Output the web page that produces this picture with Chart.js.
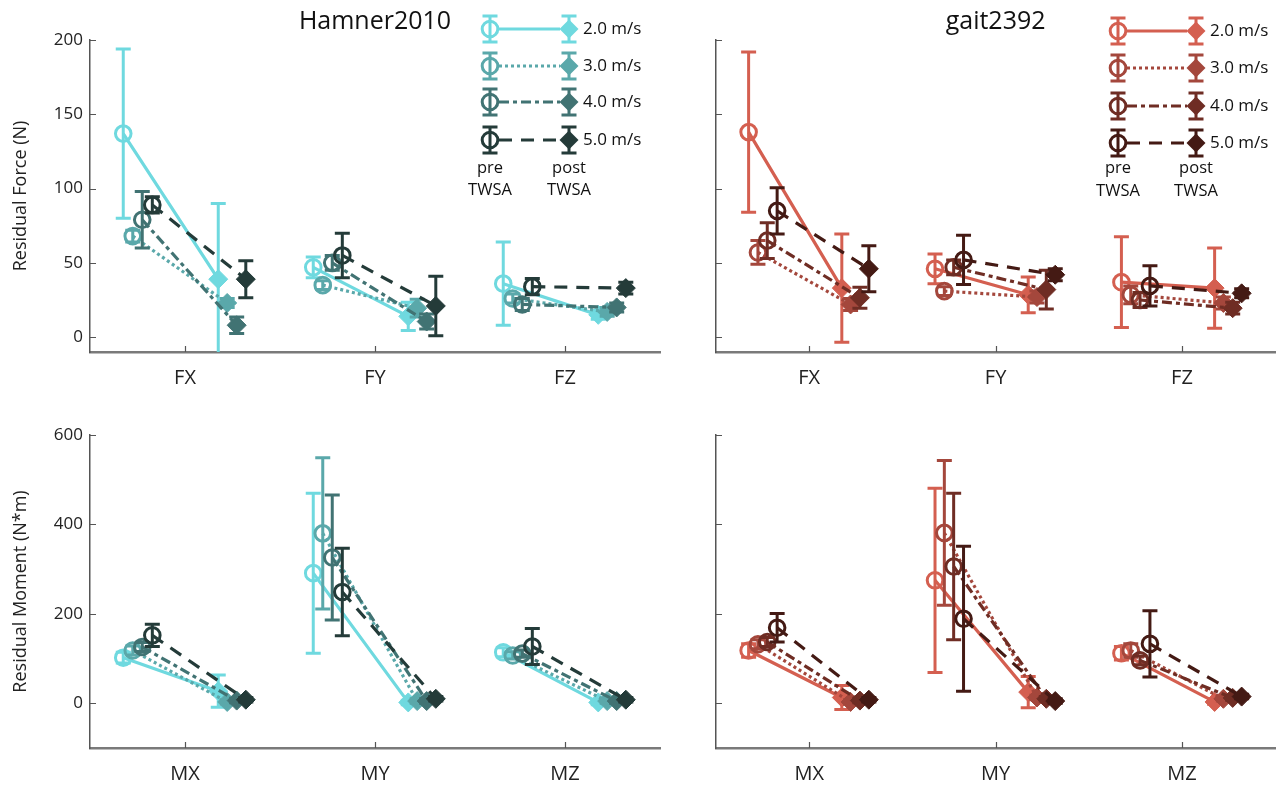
<!DOCTYPE html>
<html>
<head>
<meta charset="utf-8">
<script src="https://cdn.jsdelivr.net/npm/chart.js@4.4.1/dist/chart.umd.min.js"></script>
<style>
  body { margin: 0; background: #fff; width: 1286px; height: 787px; position: relative; overflow: hidden; }
  canvas { position: absolute; }
</style>
</head>
<body>
<canvas id="hamnerForce" width="680" height="400" style="left:0;top:0"></canvas>
<canvas id="gaitForce" width="660" height="400" style="left:626px;top:0"></canvas>
<canvas id="hamnerMoment" width="680" height="387" style="left:0;top:400px"></canvas>
<canvas id="gaitMoment" width="660" height="387" style="left:626px;top:400px"></canvas>
<script>
const forceCategories = ['FX', 'FY', 'FZ'];
const momentCategories = ['MX', 'MY', 'MZ'];
const speeds = ['2.0 m/s', '3.0 m/s', '4.0 m/s', '5.0 m/s'];
const forceTicks = [0, 50, 100, 150, 200];
const momentTicks = [0, 200, 400, 600];

// rows = speeds, columns = categories
const hamnerForcePre = [[137, 47, 36], [68, 35, 26], [79, 50, 22], [89, 55, 34]];
const hamnerForcePreSd = [[57, 7, 28], [4, 3, 3], [19, 5, 4], [5.5, 15, 5.5]];
const hamnerForcePost = [[39, 14, 15], [23, 19.5, 17], [8, 10.5, 20], [39, 21, 33]];
const hamnerForcePostSd = [[51, 9.5, 3], [3, 6, 3], [5.6, 5, 3], [12.5, 20, 4]];

const gaitForcePre = [[138, 46, 37], [57, 31, 28.5], [65, 47, 25], [85, 52, 34.5]];
const gaitForcePreSd = [[54, 10, 30.5], [8, 3, 6], [12, 5, 5], [15.5, 16.5, 13.5]];
const gaitForcePost = [[33, 28.5, 33], [22, 27, 23], [26.5, 32, 19.5], [46, 42, 29.5]];
const gaitForcePostSd = [[36.5, 12, 27], [4, 4, 4], [7, 13, 4], [15.5, 4, 3]];

const hamnerMomentPre = [[102, 291, 114], [118, 380, 107], [126, 326, 111], [152, 249, 127]];
const hamnerMomentPreSd = [[12, 179, 10], [10, 169, 8], [10, 140, 8], [25, 98, 40]];
const hamnerMomentPost = [[27, 2, 2], [3, 5, 5], [6, 5, 5], [8, 10, 8]];
const hamnerMomentPostSd = [[36, 5, 5], [5, 5, 5], [5, 5, 5], [5, 5, 5]];

const gaitMomentPre = [[118, 275, 112], [132, 381, 118], [137, 306, 96], [169, 189, 133]];
const gaitMomentPreSd = [[15, 206, 15], [10, 162, 15], [10, 164, 10], [32, 162, 74]];
const gaitMomentPost = [[13, 25, 3], [3, 13, 10], [6, 10, 12], [8, 5, 15]];
const gaitMomentPostSd = [[27, 35, 5], [5, 5, 5], [5, 5, 5], [5, 5, 5]];

const hamnerColors = ['#6fd9df', '#5aa8aa', '#417373', '#243b39'];
const gaitColors = ['#d45f50', '#a4473c', '#6f2d24', '#441a14'];
const dashes = [[], [3, 3], [10, 4, 4, 4], [13, 9]];
const preOffset = [-0.325, -0.275, -0.225, -0.172];
const postOffset = [0.175, 0.222, 0.272, 0.32];
const FONT = '"Open Sans", "Noto Sans", sans-serif';

function buildDatasets(pre, preSd, post, postSd, colors) {
  return speeds.map((label, s) => {
    const data = [], errors = [];
    for (let c = 0; c < 3; c++) {
      data.push({x: c + 0.5 + preOffset[s], y: pre[s][c]},
                {x: c + 0.5 + postOffset[s], y: post[s][c]},
                {x: c + 1, y: null});
      errors.push(preSd[s][c], postSd[s][c], 0);
    }
    return {
      label, data, errors,
      borderColor: colors[s],
      backgroundColor: colors[s],
      borderWidth: 3.2,
      borderDash: dashes[s],
      order: 4 - s,
      spanGaps: false,
      pointStyle: ctx => ctx.dataIndex % 3 === 0 ? 'circle' : 'rectRot',
      pointRadius: ctx => ctx.dataIndex % 3 === 0 ? 7.8 : 9.5,
      pointBorderWidth: ctx => ctx.dataIndex % 3 === 0 ? 3 : 1,
      pointBackgroundColor: ctx => ctx.dataIndex % 3 === 0 ? 'rgba(0,0,0,0)' : colors[s],
      pointBorderColor: colors[s]
    };
  });
}

// vertical error bars with caps, drawn under each series' markers
const errorBars = {
  id: 'errorBars',
  beforeDatasetDraw(chart, args) {
    const ds = chart.data.datasets[args.index];
    const y = chart.scales.y, a = chart.chartArea, ctx = chart.ctx;
    ctx.save();
    ctx.beginPath();
    ctx.rect(a.left, a.top, a.right - a.left, a.bottom - a.top);
    ctx.clip();
    ctx.setLineDash([]);
    ctx.strokeStyle = ds.borderColor;
    ctx.lineWidth = 3;
    args.meta.data.forEach((pt, i) => {
      const v = ds.data[i].y, e = ds.errors[i];
      if (v == null || !e) return;
      const top = y.getPixelForValue(v + e), bot = y.getPixelForValue(v - e);
      ctx.beginPath();
      ctx.moveTo(pt.x, top); ctx.lineTo(pt.x, bot);
      ctx.moveTo(pt.x - 7.5, top); ctx.lineTo(pt.x + 7.5, top);
      ctx.moveTo(pt.x - 7.5, bot); ctx.lineTo(pt.x + 7.5, bot);
      ctx.stroke();
    });
    ctx.restore();
  }
};

// matlab style ticks pointing into the plot
const innerTicks = {
  id: 'innerTicks',
  afterDraw(chart) {
    const {ctx, chartArea: a, scales: {x, y}} = chart;
    ctx.save();
    ctx.strokeStyle = '#555';
    ctx.lineWidth = 1.2;
    ctx.beginPath();
    x.ticks.forEach(t => {
      const px = Math.round(x.getPixelForValue(t.value)) + 0.5;
      ctx.moveTo(px, a.bottom); ctx.lineTo(px, a.bottom - 6);
    });
    y.ticks.forEach(t => {
      const py = Math.round(y.getPixelForValue(t.value)) + 0.5;
      ctx.moveTo(a.left, py); ctx.lineTo(a.left + 6, py);
    });
    ctx.stroke();
    ctx.restore();
  }
};

const panelTitle = {
  id: 'panelTitle',
  afterDraw(chart, args, opts) {
    if (!opts.text) return;
    const ctx = chart.ctx, a = chart.chartArea;
    ctx.save();
    ctx.fillStyle = '#111';
    ctx.font = '25px ' + FONT;
    ctx.textAlign = 'center';
    ctx.textBaseline = 'middle';
    ctx.fillText(opts.text, (a.left + a.right) / 2, 22);
    ctx.restore();
  }
};

const twsaLegend = {
  id: 'twsaLegend',
  afterDraw(chart, args, o) {
    if (!o.rows) return;
    const ctx = chart.ctx;
    ctx.save();
    o.rows.forEach((ry, s) => {
      const col = o.colors[s];
      ctx.strokeStyle = col;
      ctx.fillStyle = col;
      ctx.lineWidth = 3.2;
      ctx.setLineDash(dashes[s]);
      ctx.beginPath();
      ctx.moveTo(o.preX + 9, ry); ctx.lineTo(o.postX - 9, ry);
      ctx.stroke();
      ctx.setLineDash([]);
      ctx.lineWidth = 3;
      [o.preX, o.postX].forEach(px => {
        ctx.beginPath();
        ctx.moveTo(px, ry - 13); ctx.lineTo(px, ry + 13);
        ctx.moveTo(px - 7.5, ry - 13); ctx.lineTo(px + 7.5, ry - 13);
        ctx.moveTo(px - 7.5, ry + 13); ctx.lineTo(px + 7.5, ry + 13);
        ctx.stroke();
      });
      ctx.lineWidth = 3;
      ctx.beginPath();
      ctx.arc(o.preX, ry, 7.8, 0, Math.PI * 2);
      ctx.stroke();
      ctx.beginPath();
      ctx.moveTo(o.postX - 9.5, ry); ctx.lineTo(o.postX, ry - 9.5);
      ctx.lineTo(o.postX + 9.5, ry); ctx.lineTo(o.postX, ry + 9.5);
      ctx.closePath();
      ctx.fill();
      ctx.fillStyle = '#111';
      ctx.font = '17px ' + FONT;
      ctx.textAlign = 'left';
      ctx.textBaseline = 'middle';
      ctx.fillText(speeds[s], o.textX, ry);
    });
    ctx.fillStyle = '#111';
    ctx.font = '16.5px ' + FONT;
    ctx.textAlign = 'center';
    ctx.textBaseline = 'middle';
    ctx.fillText('pre', o.preX, o.labelY[0]);
    ctx.fillText('TWSA', o.preX, o.labelY[1]);
    ctx.fillText('post', o.postX, o.labelY[0]);
    ctx.fillText('TWSA', o.postX, o.labelY[1]);
    ctx.restore();
  }
};

function makeChart(id, p) {
  return new Chart(document.getElementById(id), {
    type: 'line',
    data: {datasets: buildDatasets(p.pre, p.preSd, p.post, p.postSd, p.colors)},
    options: {
      responsive: false,
      animation: false,
      layout: {padding: {top: p.padTop, right: p.padRight, left: 0, bottom: 0}},
      scales: {
        x: {
          type: 'linear', min: 0, max: 3,
          afterBuildTicks: s => { s.ticks = [0.5, 1.5, 2.5].map(v => ({value: v})); },
          afterFit: s => { s.height = p.xHeight; },
          ticks: {
            callback: (v, i) => p.categories[i],
            font: {family: FONT, size: 20}, color: '#222', padding: 14, maxRotation: 0
          },
          grid: {display: false, drawTicks: false},
          border: {color: '#7a7a7a', width: 2.5}
        },
        y: {
          min: p.yMin, max: p.yMax,
          afterBuildTicks: s => { s.ticks = p.yTicks.map(v => ({value: v})); },
          afterFit: s => { s.width = 90; },
          ticks: {display: p.showY, font: {family: FONT, size: 17}, color: '#222', padding: 7},
          grid: {display: false, drawTicks: false},
          border: {color: '#555', width: 1.5},
          title: {display: !!p.yTitle, text: p.yTitle, font: {family: FONT, size: 18}, color: '#222', padding: {top: 10, bottom: 0}}
        }
      },
      plugins: {
        legend: {display: false},
        tooltip: {enabled: false},
        panelTitle: {text: p.title},
        twsaLegend: p.legend || {}
      }
    },
    plugins: [errorBars, innerTicks, panelTitle, twsaLegend]
  });
}

makeChart('hamnerForce', {
  pre: hamnerForcePre, preSd: hamnerForcePreSd, post: hamnerForcePost, postSd: hamnerForcePostSd,
  colors: hamnerColors, categories: forceCategories, yMin: -10, yMax: 200, yTicks: forceTicks,
  showY: true, yTitle: 'Residual Force (N)', title: 'Hamner2010', padTop: 40, padRight: 20, xHeight: 48,
  legend: {preX: 490, postX: 569, textX: 583, rows: [29, 66, 102, 140], labelY: [168, 190], colors: hamnerColors}
});
makeChart('gaitForce', {
  pre: gaitForcePre, preSd: gaitForcePreSd, post: gaitForcePost, postSd: gaitForcePostSd,
  colors: gaitColors, categories: forceCategories, yMin: -10, yMax: 200, yTicks: forceTicks,
  showY: false, yTitle: '', title: 'gait2392', padTop: 40, padRight: 0, xHeight: 48,
  legend: {preX: 492, postX: 570, textX: 584, rows: [31, 68, 106, 143], labelY: [168, 191], colors: gaitColors}
});
makeChart('hamnerMoment', {
  pre: hamnerMomentPre, preSd: hamnerMomentPreSd, post: hamnerMomentPost, postSd: hamnerMomentPostSd,
  colors: hamnerColors, categories: momentCategories, yMin: -100, yMax: 600, yTicks: momentTicks,
  showY: true, yTitle: 'Residual Moment (N*m)', title: '', padTop: 35, padRight: 20, xHeight: 39
});
makeChart('gaitMoment', {
  pre: gaitMomentPre, preSd: gaitMomentPreSd, post: gaitMomentPost, postSd: gaitMomentPostSd,
  colors: gaitColors, categories: momentCategories, yMin: -100, yMax: 600, yTicks: momentTicks,
  showY: false, yTitle: '', title: '', padTop: 35, padRight: 0, xHeight: 39
});
</script>
</body>
</html>
